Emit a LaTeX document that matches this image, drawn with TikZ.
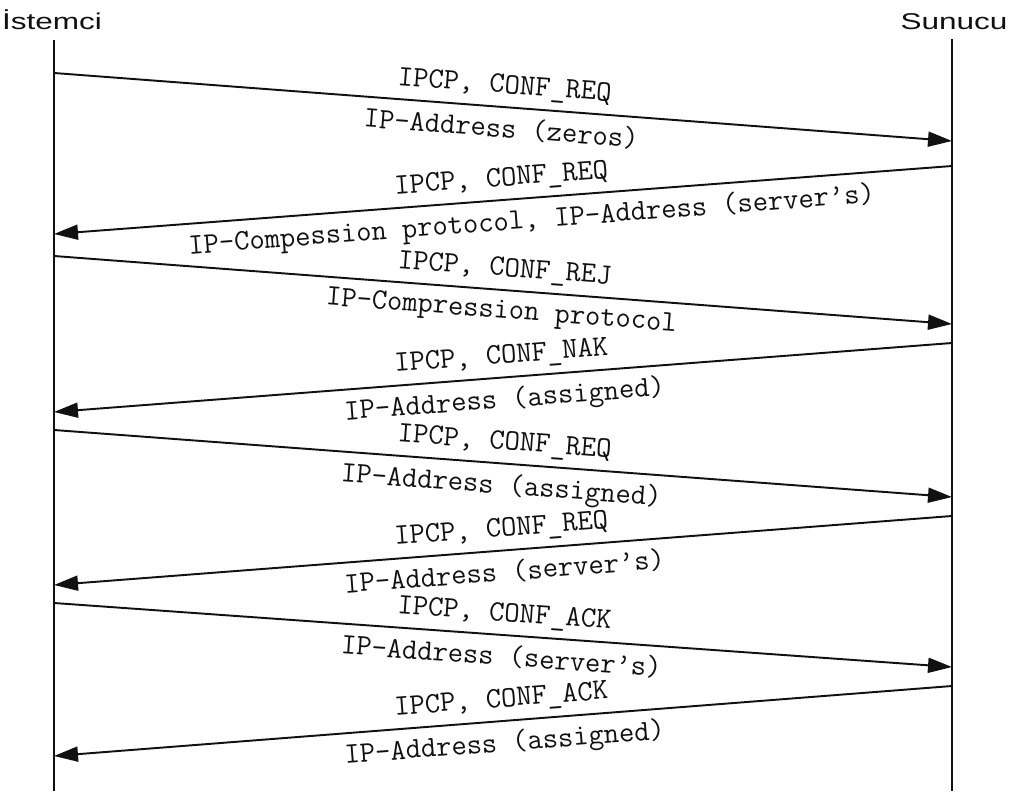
\documentclass[tikz,border=0pt]{standalone}
\usepackage{fontspec}
\usepackage{tikz}
\usetikzlibrary{arrows.meta,positioning}
\newfontfamily\headfont{Liberation Sans}
\definecolor{cInk}{HTML}{111111}
\tikzset{
  life/.style={draw=cInk,line width=0.7pt},
  msgr/.style={-{Triangle[length=0.48cm,width=0.3cm]},line width=1.1pt,color=cInk},
  msgl/.style={{Triangle[length=0.48cm,width=0.3cm]}-,line width=1.1pt,color=cInk},
  lblup/.style={sloped,above=4pt,inner sep=0pt,text=cInk,font=\ttfamily\fontsize{16.9}{18}\selectfont},
  lbldn/.style={sloped,below=5pt,inner sep=0pt,text=cInk,font=\ttfamily\fontsize{16.9}{18}\selectfont},
  head/.style={anchor=base,inner sep=0pt,xscale=1.38,text=cInk,font=\headfont\fontsize{13}{15}\selectfont},
}

\begin{document}
\begin{tikzpicture}[x=0.02cm,y=-0.02cm]
    \useasboundingbox (0,0) rectangle (1014,791);
    \node[head] (client) at (52,30) {İstemci};
    \node[head] (server) at (954,30) {Sunucu};
    \coordinate (ctop) at (54,40);  \coordinate (cbot) at (54,791);
    \coordinate (stop) at (952,39); \coordinate (sbot) at (952,791);
    \draw[life] (ctop) -- (cbot);
    \draw[life] (stop) -- (sbot);
    \foreach \i/\yc/\ys in {1/73/141,2/234/166,3/256/324,4/412/343,5/430/497,6/585/516,7/603/667,8/756/686}{
      \coordinate (c\i) at (54,\yc); \coordinate (s\i) at (952,\ys);}
    \draw[msgr] (c1) -- node[lblup]{IPCP, CONF\_REQ} node[lbldn]{IP-Address (zeros)} (s1);
    \draw[msgl] (c2) -- node[lblup]{IPCP, CONF\_REQ} node[lbldn,pos=0.53]{IP-Compession protocol, IP-Address (server’s)} (s2);
    \draw[msgr] (c3) -- node[lblup]{IPCP, CONF\_REJ} node[lbldn]{IP-Compression protocol} (s3);
    \draw[msgl] (c4) -- node[lblup]{IPCP, CONF\_NAK} node[lbldn]{IP-Address (assigned)} (s4);
    \draw[msgr] (c5) -- node[lblup]{IPCP, CONF\_REQ} node[lbldn]{IP-Address (assigned)} (s5);
    \draw[msgl] (c6) -- node[lblup]{IPCP, CONF\_REQ} node[lbldn]{IP-Address (server’s)} (s6);
    \draw[msgr] (c7) -- node[lblup]{IPCP, CONF\_ACK} node[lbldn]{IP-Address (server’s)} (s7);
    \draw[msgl] (c8) -- node[lblup]{IPCP, CONF\_ACK} node[lbldn]{IP-Address (assigned)} (s8);
  \end{tikzpicture}
\end{document}
